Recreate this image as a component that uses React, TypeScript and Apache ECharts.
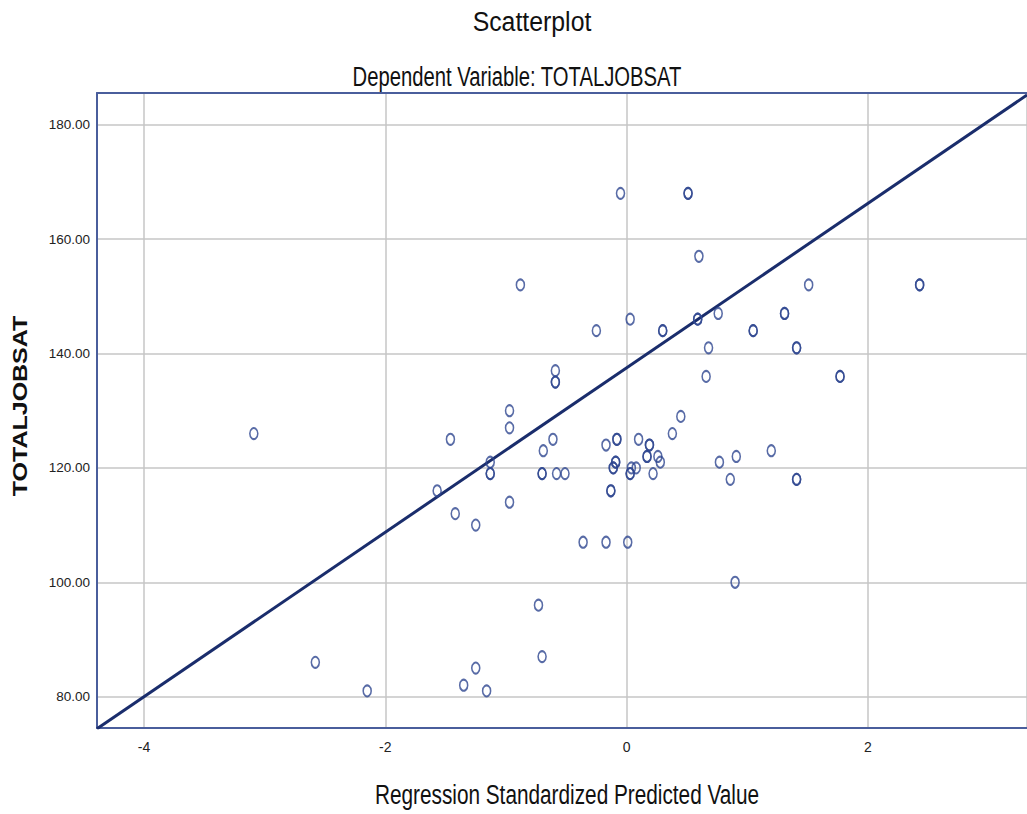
import React, { useEffect, useRef } from "react";
import * as echarts from "echarts";

// Regression standardized predicted value (x) vs TOTALJOBSAT (y).
// Points appearing bolder in the picture are listed twice (overlapping cases).
const predValues: number[] = [
  -3.09, -2.58, -2.15, -1.57, -1.46, -1.42, -1.25, -1.25, -1.35, -1.16,
  -1.13, -1.13, -1.13, -0.97, -0.97, -0.97, -0.88, -0.73, -0.70, -0.69,
  -0.70, -0.70, -0.61, -0.59, -0.59, -0.59, -0.58, -0.51, -0.36, -0.25,
  -0.17, -0.17, -0.05, -0.08, -0.08, -0.09, -0.09, -0.11, -0.11, -0.13,
  -0.13, 0.01, 0.03, 0.04, 0.03, 0.03, 0.08, 0.10, 0.17, 0.17,
  0.19, 0.19, 0.22, 0.26, 0.28, 0.30, 0.30, 0.38, 0.45, 0.51,
  0.51, 0.59, 0.59, 0.60, 0.66, 0.68, 0.76, 0.77, 0.86, 0.90,
  0.91, 1.05, 1.05, 1.20, 1.31, 1.31, 1.41, 1.41, 1.41, 1.41,
  1.51, 1.77, 1.77, 2.43, 2.43,
];
const jobSat: number[] = [
  126, 86, 81, 116, 125, 112, 110, 85, 82, 81,
  121, 119, 119, 130, 127, 114, 152, 96, 87, 123,
  119, 119, 125, 137, 135, 135, 119, 119, 107, 144,
  124, 107, 168, 125, 125, 121, 121, 120, 120, 116,
  116, 107, 146, 120, 119, 119, 120, 125, 122, 122,
  124, 124, 119, 122, 121, 144, 144, 126, 129, 168,
  168, 146, 146, 157, 136, 141, 147, 121, 118, 100,
  122, 144, 144, 123, 147, 147, 141, 141, 118, 118,
  152, 136, 136, 152, 152,
];

// Fit line end points (at the plot's left and right edges)
const fitLineX: number[] = [-4.39, 3.32];
const fitLineY: number[] = [74.4, 185.2];

const xRange: number[] = [-4.39, 3.32];
const yRange: number[] = [74.52, 185.55];

const TITLE = "Scatterplot";
const SUBTITLE = "Dependent Variable: TOTALJOBSAT";
const X_NAME = "Regression Standardized Predicted Value";
const Y_NAME = "TOTALJOBSAT";

const SANS = '"Liberation Sans", Arial, sans-serif';

export default function App() {
  const ref = useRef<HTMLDivElement>(null);

  useEffect(() => {
    document.body.style.margin = "0";
    if (!ref.current) return;
    const chart = echarts.init(ref.current, undefined, { renderer: "svg" });

    const points = predValues.map((x, i) => [x, jobSat[i]]);
    const line = fitLineX.map((x, i) => [x, fitLineY[i]]);

    const axisColor = "#4a5e9c";

    chart.setOption({
      animation: false,
      backgroundColor: "#ffffff",
      grid: { left: 97, right: 0, top: 93, bottom: 86 },
      xAxis: [
        {
          type: "value",
          min: xRange[0],
          max: xRange[1],
          splitNumber: 4,
          axisLine: { show: true, onZero: false, lineStyle: { color: axisColor, width: 2 } },
          axisTick: { show: false },
          axisLabel: {
            showMinLabel: false,
            showMaxLabel: false,
            margin: 12,
            color: "#222",
            fontFamily: SANS,
            fontSize: 14,
            formatter: (v: number) => String(Math.round(v)),
          },
          splitLine: { show: true, lineStyle: { color: "#c6c6c6", width: 1.5 } },
        },
        {
          type: "value",
          position: "top",
          min: xRange[0],
          max: xRange[1],
          axisLine: { show: true, onZero: false, lineStyle: { color: axisColor, width: 2 } },
          axisTick: { show: false },
          axisLabel: { show: false },
          splitLine: { show: false },
        },
      ],
      yAxis: {
        type: "value",
        min: yRange[0],
        max: yRange[1],
        splitNumber: 5,
        axisLine: { show: true, onZero: false, lineStyle: { color: axisColor, width: 2 } },
        axisTick: { show: false },
        axisLabel: {
          showMinLabel: false,
          showMaxLabel: false,
          margin: 7,
          color: "#222",
          fontFamily: SANS,
          fontSize: 13.5,
          formatter: (v: number) => v.toFixed(2),
        },
        splitLine: { show: true, lineStyle: { color: "#c6c6c6", width: 1.5 } },
      },
      graphic: [
        {
          type: "text",
          x: 532,
          y: 22,
          scaleX: 0.92,
          style: {
            text: TITLE,
            fontFamily: SANS,
            fontSize: 27,
            fill: "#111",
            align: "center",
            verticalAlign: "middle",
          },
        },
        {
          type: "text",
          x: 517,
          y: 76,
          scaleX: 0.75,
          style: {
            text: SUBTITLE,
            fontFamily: SANS,
            fontSize: 27,
            fill: "#111",
            align: "center",
            verticalAlign: "middle",
          },
        },
        {
          type: "text",
          x: 567,
          y: 794,
          scaleX: 0.77,
          style: {
            text: X_NAME,
            fontFamily: SANS,
            fontSize: 27,
            fill: "#111",
            align: "center",
            verticalAlign: "middle",
          },
        },
        {
          type: "text",
          x: 20,
          y: 406,
          rotation: Math.PI / 2,
          scaleY: 0.8,
          style: {
            text: Y_NAME,
            fontFamily: SANS,
            fontWeight: "bold",
            fontSize: 25,
            fill: "#111",
            align: "center",
            verticalAlign: "middle",
          },
        },
      ],
      series: [
        {
          type: "line",
          data: line,
          symbol: "none",
          lineStyle: { color: "#1a2d6c", width: 3 },
          z: 3,
        },
        {
          type: "scatter",
          data: points,
          symbol: "circle",
          symbolSize: [8, 11],
          itemStyle: { color: "rgba(0,0,0,0)", borderColor: "#2e4690", borderWidth: 1.8 },
          z: 4,
        },
      ],
    });

    return () => chart.dispose();
  }, []);

  return <div ref={ref} style={{ width: 1027, height: 814 }} />;
}
